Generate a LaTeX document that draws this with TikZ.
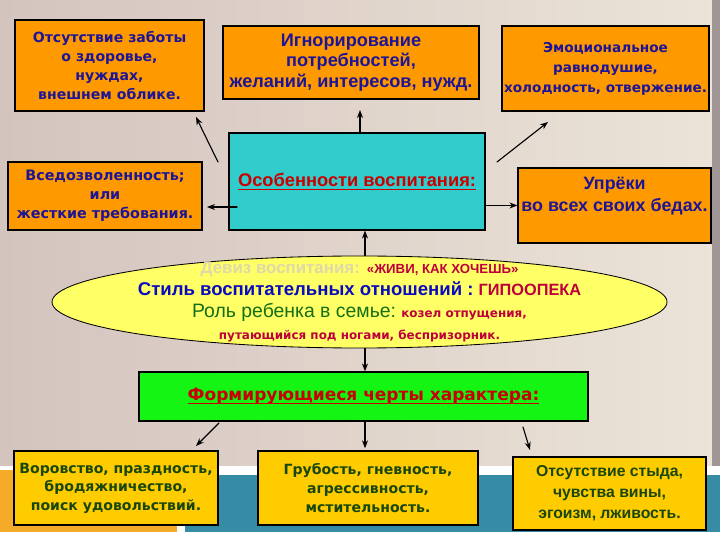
\documentclass[tikz,border=0pt]{standalone}
\usepackage{fontspec}
\setmainfont{Liberation Sans}
\newfontfamily\verd{DejaVu Sans}
\usepackage{tikz}
\usetikzlibrary{arrows.meta,shapes.geometric}
\usepackage{xcolor}
\newcommand\uln[1]{\setbox0\hbox{#1}\rlap{\vrule height -1.4pt depth 2.3pt width \wd0}\box0}
\definecolor{boxorange}{RGB}{255,153,0}
\definecolor{boxcyan}{RGB}{51,204,204}
\definecolor{boxgreen}{RGB}{20,245,20}
\definecolor{boxyellow}{RGB}{255,204,0}
\definecolor{ovalyellow}{RGB}{255,255,102}
\definecolor{inkblue}{RGB}{30,20,150}
\definecolor{inkbright}{RGB}{10,10,190}
\definecolor{inkred}{RGB}{200,0,0}
\definecolor{inkcrimson}{RGB}{190,0,60}
\definecolor{inkgreen}{RGB}{20,110,20}
\definecolor{inkdark}{RGB}{25,70,10}
\definecolor{faded}{RGB}{222,216,170}
\definecolor{paper}{RGB}{236,228,216}
\definecolor{paperdark}{RGB}{212,196,190}
\definecolor{striporange}{RGB}{245,170,40}
\definecolor{stripteal}{RGB}{55,140,165}
\definecolor{edgegray}{RGB}{160,150,150}

\begin{document}
\begin{tikzpicture}[>={Stealth[length=2mm]},line cap=round,
  note/.style={draw,line width=0.8pt,fill=boxorange,align=center,inner sep=0pt,text=inkblue},
  trait/.style={draw,line width=0.8pt,fill=boxyellow,align=center,inner sep=0pt,text=inkdark},
  link/.style={->,line width=0.8pt}]
\useasboundingbox (0,0) rectangle (18,13.5);
\shade[left color=paperdark,right color=paper] (0,1.85) rectangle (18,13.5);
\fill[white] (0,0) rectangle (18,1.85);
\fill[striporange] (0,0.2) rectangle (4.425,1.75);
\fill[stripteal] (4.625,0.2) rectangle (18,1.625);
\fill[edgegray] (17.8,1.85) rectangle (18,13.5);

\node[note,minimum width=4.725cm,minimum height=2.275cm,font=\verd\bfseries\fontsize{10}{13.5}\selectfont] (care) at (2.738,11.863) {Отсутствие заботы\\о здоровье,\\нуждах,\\внешнем облике.};
\node[note,minimum width=6.4cm,minimum height=1.825cm,font=\bfseries\fontsize{12.9}{14.6}\selectfont] (ignore) at (8.775,11.938) {Игнорирование\\потребностей,\\желаний, интересов, нужд.};
\node[note,minimum width=5.175cm,minimum height=2.125cm,font=\verd\bfseries\fontsize{9.7}{14.2}\selectfont] (cold) at (15.138,11.788) {Эмоциональное\\равнодушие,\\холодность, отвержение.};
\node[note,minimum width=4.85cm,minimum height=1.7cm,font=\verd\bfseries\fontsize{10.2}{13.5}\selectfont] (permit) at (2.625,8.6) {Вседозволенность;\\или\\жесткие требования.};
\node[draw,line width=0.8pt,fill=boxcyan,minimum width=6.4cm,minimum height=2.425cm,text=inkred,font=\bfseries\fontsize{13}{15}\selectfont] (feat) at (8.925,8.963) {\uln{Особенности воспитания:}};
\node[note,minimum width=4.825cm,minimum height=1.875cm,font=\bfseries\fontsize{12.7}{15.6}\selectfont] (blame) at (15.363,8.363) {Упрёки\\во всех своих бедах.\\\mbox{}};

\node[draw,ellipse,line width=0.6pt,fill=ovalyellow,minimum width=15.375cm,minimum height=2.3cm] (style) at (8.988,5.95) {};
\node[align=center,inner sep=0pt,font=\fontsize{10}{15.8}\selectfont] (styletext) at (style.center) {%
{\color{faded}\bfseries\fontsize{12}{15.8}\selectfont Девиз воспитания:}\enspace
{\color{inkcrimson}\bfseries\fontsize{9.4}{15.8}\selectfont «ЖИВИ, КАК ХОЧЕШЬ»}\\
{\color{inkbright}\bfseries\fontsize{13.2}{15.8}\selectfont Стиль воспитательных отношений :}
{\color{inkcrimson}\bfseries\fontsize{11.6}{15.8}\selectfont ГИПООПЕКА}\\
{\color{inkgreen}\fontsize{13.8}{15.8}\selectfont Роль ребенка в семье:}
{\color{inkcrimson}\verd\bfseries\fontsize{8.5}{15.8}\selectfont козел отпущения,}\\
{\color{inkcrimson}\verd\bfseries\fontsize{8.5}{15.8}\selectfont путающийся под ногами, беспризорник.}};

\node[draw,line width=0.8pt,fill=boxgreen,minimum width=11.225cm,minimum height=1.225cm,text=inkred,font=\verd\bfseries\fontsize{12.1}{14}\selectfont] (traits) at (9.088,3.588) {\uln{Формирующиеся черты характера:}};

\node[trait,minimum width=5.1cm,minimum height=1.85cm,font=\verd\bfseries\fontsize{10}{13.2}\selectfont] (vices) at (2.9,1.3) {Воровство, праздность,\\бродяжничество,\\поиск удовольствий.};
\node[trait,minimum width=5.5cm,minimum height=1.85cm,font=\verd\bfseries\fontsize{10}{13.5}\selectfont] (rude) at (9.2,1.3) {Грубость, гневность,\\агрессивность,\\мстительность.};
\node[trait,minimum width=4.825cm,minimum height=1.825cm,font=\bfseries\fontsize{11.2}{15}\selectfont] (shame) at (15.238,1.163) {Отсутствие стыда,\\чувства вины,\\эгоизм, лживость.};

\coordinate (careA) at (5.45,9.45);
\coordinate (careB) at (4.9,10.575);
\coordinate (ignoreB) at (9.0,10.75);
\coordinate (coldA) at (12.425,9.45);
\coordinate (coldB) at (13.7,10.45);
\coordinate (permitA) at (5.925,8.325);
\coordinate (permitB) at (5.175,8.325);
\coordinate (vicesA) at (5.475,2.925);
\coordinate (vicesB) at (4.9,2.35);
\coordinate (shameA) at (13.075,2.825);
\coordinate (shameB) at (13.25,2.25);

\draw[link] (careA) -- (careB);
\draw[link] (feat.north -| ignoreB) -- (ignoreB);
\draw[link] (coldA) -- (coldB);
\draw[link] (permitA) -- (permitB);
\draw[link] (feat.east |- blame.west) -- (blame.west);
\draw[link] (style.north -| 9.125,0) -- (feat.south -| 9.125,0);
\draw[link] (style.south -| 9.125,0) -- (traits.north -| 9.125,0);
\draw[link] (vicesA) -- (vicesB);
\draw[link] (traits.south -| 9.125,0) -- ([yshift=1.5pt]rude.north -| 9.125,0);
\draw[link] (shameA) -- (shameB);
\end{tikzpicture}
\end{document}
